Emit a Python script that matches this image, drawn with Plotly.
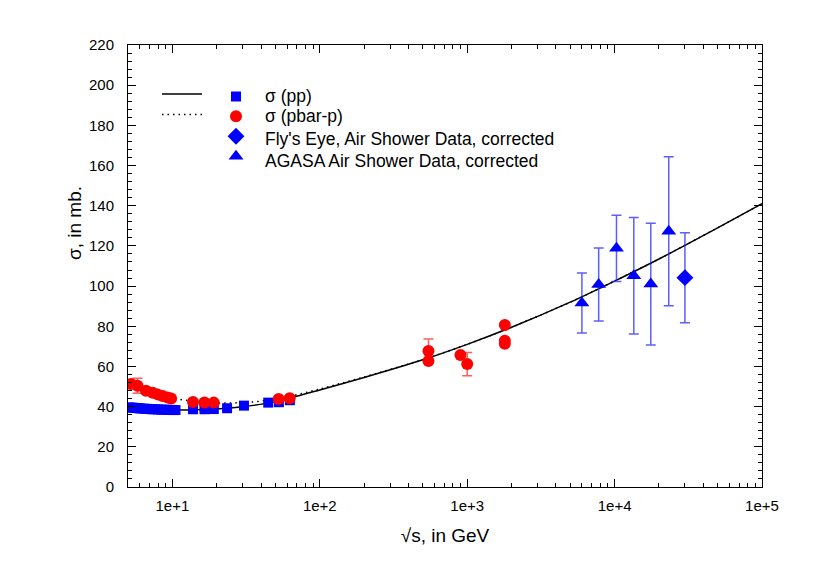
import plotly.graph_objects as go

# ---------------- data ----------------
# fitted curves (sqrt(s) in GeV, sigma in mb)
fit_x = [5, 7, 10, 15, 20, 30, 50, 100, 200, 500, 1000, 2000, 5000, 1e4, 2e4, 5e4, 1e5]
fit_pp = [39.5, 38.9, 38.4, 38.4, 38.8, 40.0, 42.5, 48.3, 54.5, 63.3, 71.0, 79.5, 92.0, 102.5, 113.5, 129.0, 141.0]
fit_pbar = [51.5, 47.3, 44.3, 42.4, 41.8, 42.0, 43.6, 48.8, 54.8, 63.4, 71.0, 79.5, 92.0, 102.5, 113.5, 129.0, 141.0]

# sigma(pp) data
pp_x = [5.1, 5.3, 5.5, 5.7, 5.9, 6.1, 6.4, 6.7, 7.0, 7.3, 7.6, 8.0, 8.4, 8.8, 9.2, 9.7, 10.1, 10.5,
        13.8, 16.5, 19.1, 23.5, 30.6, 44.7, 52.8, 62.7]
pp_y = [39.6, 39.5, 39.4, 39.3, 39.2, 39.1, 39.0, 38.9, 38.8, 38.7, 38.7, 38.6, 38.5, 38.5, 38.4, 38.4, 38.3, 38.3,
        38.7, 38.7, 38.8, 39.2, 40.5, 42.0, 42.2, 43.2]

# sigma(pbar-p) data
pbar_x = [5.24, 5.80, 6.62, 7.35, 7.94, 8.59, 9.29, 9.80, 13.8, 16.5, 19.1, 52.6, 62.5,
          546, 546, 900, 1000, 1800, 1800, 1800]
pbar_y = [51.3, 50.4, 47.9, 46.9, 46.1, 45.3, 44.6, 44.1, 42.3, 42.1, 42.0, 43.8, 44.2,
          67.7, 62.7, 65.7, 61.2, 80.6, 72.8, 71.3]
pbar_err = [0, 3.7, 0, 0, 0, 0, 0, 0, 0, 0, 0, 0, 0,
            6.0, 0, 0, 5.8, 0, 0, 0]

# Fly's Eye air shower data (corrected)
fly_x = [30000]
fly_y = [104.2]
fly_err = [22.4]

# AGASA air shower data (corrected)
agasa_x = [6000, 7800, 10300, 13500, 17600, 23300]
agasa_y = [91.6, 100.8, 118.8, 105.2, 101.0, 127.3]
agasa_err = [14.9, 18.2, 16.5, 29.0, 30.3, 37.1]

# legend labels
legend_labels = ["σ (pp)", "σ (pbar-p)", "Fly's Eye, Air Shower Data, corrected",
                 "AGASA Air Shower Data, corrected"]

# axis ticks
x_tickvals = [10, 100, 1000, 10000, 100000]
x_ticktext = ["1e+1", "1e+2", "1e+3", "1e+4", "1e+5"]
x_minor = [m * 10 ** d for d in range(0, 5) for m in range(2, 10) if m * 10 ** d > 5]

FONT = "Liberation Sans, Arial, Helvetica, sans-serif"
BLUE = "#0000ff"
RED = "#ff0000"
DOTS = "1.5px,4px"

# page geometry (browser body has an 8px margin)
W, H = 822, 555
ML, MR, MT, MB = 120, 68, 37, 76
PX0, PY0 = 8 + ML, 8 + MT
PW, PH = W - ML - MR, H - MT - MB


def px(xpage):
    return (xpage - PX0) / PW


def py(ypage):
    return 1 - (ypage - PY0) / PH


fig = go.Figure()

fig.add_trace(go.Scatter(x=fit_x, y=fit_pp, mode="lines", showlegend=False,
                         line=dict(color="black", width=1.5, shape="spline", smoothing=0.8)))
fig.add_trace(go.Scatter(x=fit_x, y=fit_pbar, mode="lines", showlegend=False,
                         line=dict(color="black", width=1.5, dash=DOTS, shape="spline", smoothing=0.8)))

fig.add_trace(go.Scatter(x=pp_x, y=pp_y, mode="markers", name=" ",
                         marker=dict(symbol="square", size=10, color=BLUE), legendrank=1))
fig.add_trace(go.Scatter(x=pbar_x, y=pbar_y, mode="markers", name=" ",
                         marker=dict(symbol="circle", size=12, color=RED),
                         error_y=dict(type="data", array=pbar_err, visible=True,
                                      color="rgba(255,40,40,0.75)", thickness=1.5, width=5),
                         legendrank=2))
fig.add_trace(go.Scatter(x=agasa_x, y=agasa_y, mode="markers", name=" ",
                         marker=dict(symbol="triangle-up", size=13, color=BLUE),
                         error_y=dict(type="data", array=agasa_err, visible=True,
                                      color="rgba(40,40,255,0.75)", thickness=1.5, width=5),
                         legendrank=4))
fig.add_trace(go.Scatter(x=fly_x, y=fly_y, mode="markers", name=" ",
                         marker=dict(symbol="diamond", size=13, color=BLUE),
                         error_y=dict(type="data", array=fly_err, visible=True,
                                      color="rgba(40,40,255,0.75)", thickness=1.5, width=5),
                         legendrank=3))

axis_common = dict(showline=True, linecolor="black", linewidth=1, mirror="allticks",
                   ticks="inside", tickcolor="black", showgrid=False, zeroline=False,
                   tickfont=dict(family=FONT, size=15, color="black"))

annotations = [dict(text="σ, in mb.", xref="paper", yref="paper", x=px(74), y=py(223),
                    textangle=-90, showarrow=False, font=dict(family=FONT, size=19),
                    xanchor="center", yanchor="middle")]
label_y = [96, 116.5, 138.5, 161]
for lab, yy in zip(legend_labels, label_y):
    annotations.append(dict(text=lab, xref="paper", yref="paper", x=px(263), y=py(yy),
                            xanchor="left", yanchor="middle", showarrow=False,
                            font=dict(family=FONT, size=17.5, color="black")))

shapes = [
    dict(type="line", xref="paper", yref="paper", x0=px(162), x1=px(202), y0=py(94), y1=py(94),
         line=dict(color="black", width=1.5)),
    dict(type="line", xref="paper", yref="paper", x0=px(162), x1=px(202), y0=py(114.5), y1=py(114.5),
         line=dict(color="black", width=1.5, dash=DOTS)),
]

fig.update_layout(
    width=W, height=H,
    margin=dict(l=ML, r=MR, t=MT, b=MB),
    paper_bgcolor="white", plot_bgcolor="white",
    font=dict(family=FONT, color="black"),
    xaxis=dict(type="log", range=[0.699, 5], tickmode="array", tickvals=x_tickvals, ticktext=x_ticktext,
               ticklen=8, tickwidth=1, ticklabelstandoff=5,
               minor=dict(tickmode="array", tickvals=x_minor, ticks="inside", ticklen=4, tickcolor="black"),
               title=dict(text="√s, in GeV", font=dict(family=FONT, size=19), standoff=15),
               **axis_common),
    yaxis=dict(range=[0, 220], tickmode="linear", tick0=0, dtick=20, ticklen=8, tickwidth=1,
               ticklabelstandoff=10,
               minor=dict(dtick=4, ticks="inside", ticklen=4, tickcolor="black"),
               **axis_common),
    showlegend=True,
    legend=dict(x=px(216), y=py(81.5), xanchor="left", yanchor="top", bgcolor="rgba(0,0,0,0)",
                font=dict(family=FONT, size=13), tracegroupgap=0),
    annotations=annotations,
    shapes=shapes,
)

fig.write_html("out.html")
